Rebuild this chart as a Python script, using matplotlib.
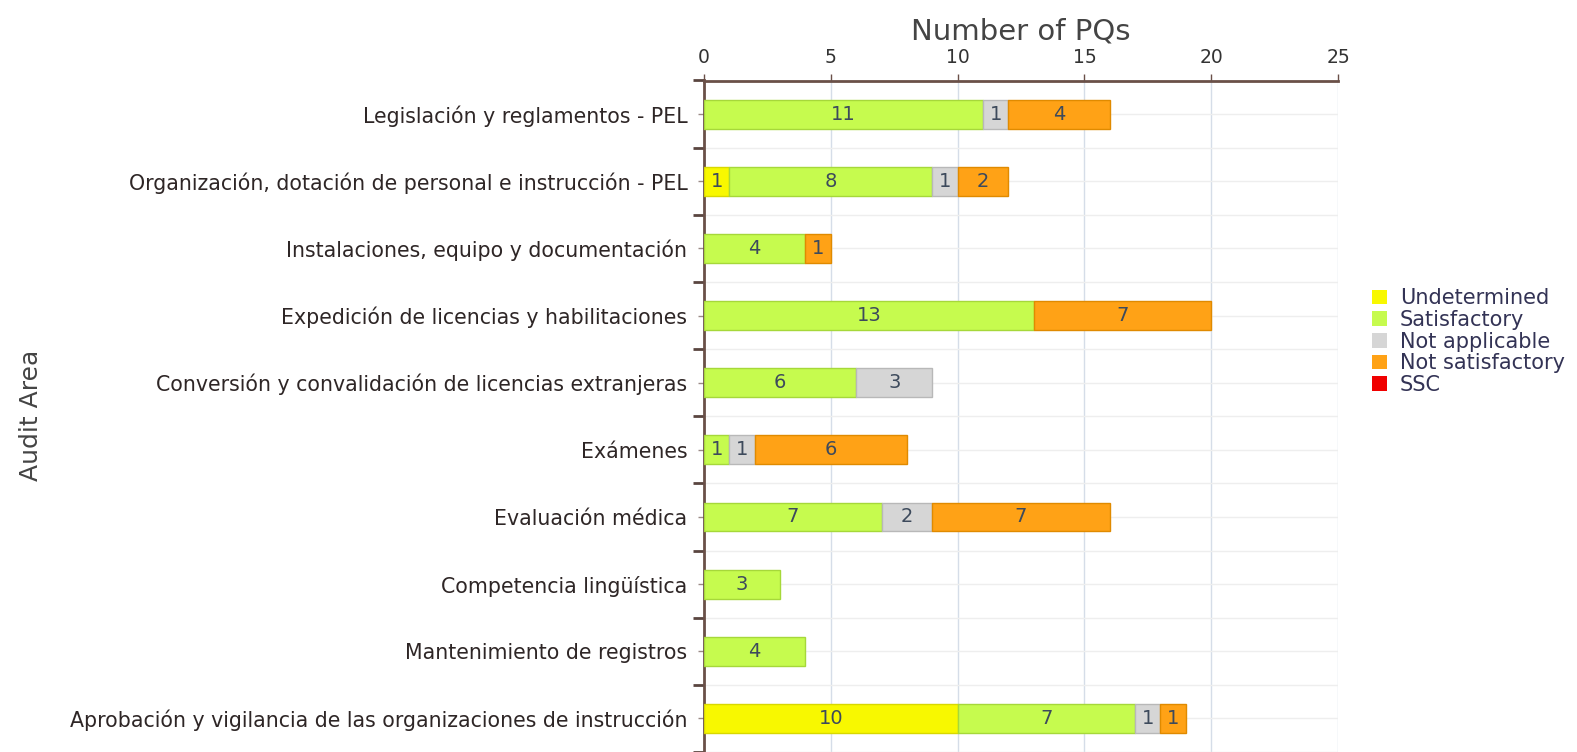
import matplotlib
matplotlib.use("Agg")
import matplotlib.pyplot as plt
from matplotlib.patches import Patch
import numpy as np

categories = [
    "Legislación y reglamentos - PEL",
    "Organización, dotación de personal e instrucción - PEL",
    "Instalaciones, equipo y documentación",
    "Expedición de licencias y habilitaciones",
    "Conversión y convalidación de licencias extranjeras",
    "Exámenes",
    "Evaluación médica",
    "Competencia lingüística",
    "Mantenimiento de registros",
    "Aprobación y vigilancia de las organizaciones de instrucción",
]
series_names = ["Undetermined", "Satisfactory", "Not applicable", "Not satisfactory", "SSC"]
undetermined = [0, 1, 0, 0, 0, 0, 0, 0, 0, 10]
satisfactory = [11, 8, 4, 13, 6, 1, 7, 3, 4, 7]
not_applicable = [1, 1, 0, 0, 3, 1, 2, 0, 0, 1]
not_satisfactory = [4, 2, 1, 7, 0, 6, 7, 0, 0, 1]
ssc = [0, 0, 0, 0, 0, 0, 0, 0, 0, 0]
x_ticks = [0, 5, 10, 15, 20, 25]

colors = ["#f8f800", "#c6fb4e", "#d6d6d6", "#ffa216", "#f00000"]
edges = ["#d8d800", "#a6d83a", "#b8b8b8", "#e08a00", "#c00000"]

plt.rcParams['font.family'] = ['DejaVu Sans']
fig = plt.figure(figsize=(15.77, 7.52), dpi=100)
ax = fig.add_axes([704/1577, 0.0, 634/1577, (752-80.5)/752])

data = [undetermined, satisfactory, not_applicable, not_satisfactory, ssc]
y = np.arange(len(categories))
left = np.zeros(len(categories))
for name, vals, c, ec in zip(series_names, data, colors, edges):
    vals = np.array(vals, dtype=float)
    nz = vals > 0
    if nz.any():
        ax.barh(y[nz], vals[nz], left=left[nz], height=0.43, color=c, edgecolor=ec,
                linewidth=1, zorder=3)
    for yi, (l, v) in enumerate(zip(left, vals)):
        if v > 0:
            ax.text(l + v / 2, yi, f"{int(v)}", ha="center", va="center",
                    fontsize=14, color="#3d4a5c", zorder=4)
    left += vals

ax.set_xlim(0, 25)
ax.set_ylim(len(categories) - 0.5, -0.5)
ax.xaxis.tick_top()
ax.xaxis.set_label_position("top")
ax.set_xticks(x_ticks)
ax.set_xticklabels([str(t) for t in x_ticks], fontsize=13.5, color="#333333")
ax.set_yticks(y)
ax.set_yticklabels(categories, fontsize=14.8, color="#2e2626")
ax.set_yticks(np.arange(-0.5, len(categories), 1), minor=True)
ax.tick_params(axis="y", which="major", length=4, width=1, color="#9a8a86", pad=8)
ax.tick_params(axis="y", which="minor", length=8, width=2, color="#5a4540")
ax.tick_params(axis="x", which="major", length=5, width=1, color="#6a5048", pad=5)

ax.set_xlabel("Number of PQs", fontsize=21, color="#444444", labelpad=6)
fig.text(31/1577, 1 - 415/752, "Audit Area", rotation=90, fontsize=18,
         color="#444444", ha="center", va="center")

for s in ["right", "bottom"]:
    ax.spines[s].set_visible(False)
ax.spines["top"].set_color("#6a5048")
ax.spines["top"].set_linewidth(2)
ax.spines["left"].set_color("#6a5048")
ax.spines["left"].set_linewidth(2)

ax.grid(axis="x", which="major", color="#d5dde8", linewidth=1, zorder=0)
ax.grid(axis="y", which="both", color="#eeeeee", linewidth=1, zorder=0)
ax.set_axisbelow(True)

handles = [Patch(facecolor=c, edgecolor="none", label=n) for n, c in zip(series_names, colors)]
leg = fig.legend(handles=handles, loc="upper left", bbox_to_anchor=(1364/1577, 1 - 280/752),
                 frameon=False, fontsize=15, handlelength=0.72, handleheight=0.72,
                 handletextpad=0.6, labelspacing=0.08, borderaxespad=0)
for t in leg.get_texts():
    t.set_color("#333355")

fig.savefig("out.png", dpi=100)
